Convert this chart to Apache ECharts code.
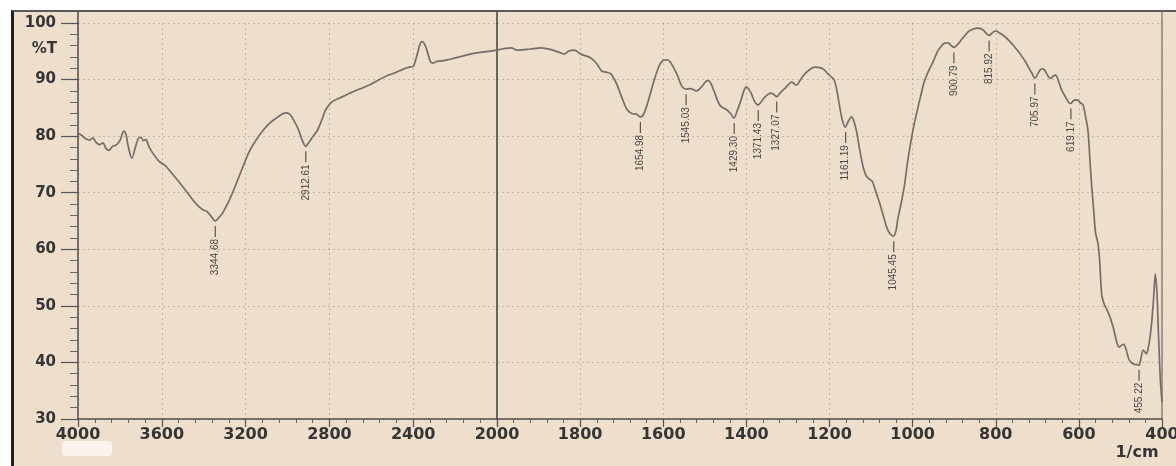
<!DOCTYPE html>
<html><head><meta charset="utf-8">
<script src="https://cdn.jsdelivr.net/npm/echarts@6/dist/echarts.min.js"></script>
<style>
html,body{margin:0;padding:0;background:#fff;}
#wrap{position:relative;width:1176px;height:466px;overflow:hidden;background:#fff;}
#paper{position:absolute;left:11px;top:10px;right:0;bottom:0;background:#eedecc;border-left:3px solid #1e1e1e;border-top:2px solid #5a5a5a;}
#chart{position:absolute;left:0;top:0;width:1176px;height:466px;}
</style></head><body>
<div id="wrap"><div id="paper"></div><div id="chart"></div></div>
<script>
// ---- data (wavenumber in 1/cm, transmittance in %T) ----
const wnHigh = [4000,3985,3965,3945,3929,3914,3897,3881,3866,3852,3835,3819,3800,3781,3770,3762,3743,3724,3712,3700,3688,3676,3662,3643,3614,3581,3560,3533,3486,3438,3405,3385,3360,3345,3330,3310,3280,3248,3186,3150,3119,3085,3057,3030,3010,2990,2970,2948,2930,2913,2900,2885,2858,2840,2820,2800,2786,2760,2724,2690,2643,2600,2567,2530,2486,2450,2420,2400,2392,2380,2368,2360,2350,2340,2330,2318,2305,2290,2260,2224,2180,2129,2080,2040,2000];
const tHigh = [80.5,80.2,79.6,79.3,79.7,78.9,78.5,78.8,77.8,77.5,78.2,78.4,79.2,80.9,80.2,78.5,76.1,78.3,79.6,79.8,79.2,79.4,78.2,77.0,75.6,74.7,73.8,72.6,70.4,68.1,67.0,66.7,65.6,65.0,65.5,66.4,68.5,71.3,77.0,79.3,80.9,82.3,83.1,83.8,84.1,83.9,82.8,81.2,79.3,78.2,78.8,79.6,81.0,82.5,84.5,85.6,86.1,86.6,87.2,87.8,88.5,89.2,89.9,90.6,91.2,91.8,92.2,92.3,93.0,94.6,96.2,96.7,96.5,95.8,94.6,93.2,92.9,93.2,93.3,93.6,94.0,94.5,94.8,95.0,95.2];

const wnLow = [2000,1980,1966,1952,1935,1920,1894,1870,1850,1839,1828,1815,1798,1774,1760,1748,1736,1726,1712,1700,1688,1676,1665,1655,1647,1635,1623,1610,1600,1590,1583,1568,1555,1545,1535,1520,1508,1497,1491,1479,1470,1462,1448,1438,1430,1422,1414,1406,1400,1394,1388,1380,1372,1365,1359,1350,1340,1333,1327,1318,1308,1300,1291,1284,1279,1272,1265,1255,1243,1234,1224,1214,1205,1196,1188,1182,1176,1169,1162,1155,1147,1141,1135,1129,1123,1117,1111,1104,1097,1090,1080,1070,1063,1055,1046,1040,1036,1028,1020,1012,1003,996,988,980,972,963,955,947,940,932,924,915,907,900,892,883,874,864,855,845,836,828,822,816,808,800,790,780,768,756,746,737,728,720,712,706,699,692,686,680,674,668,662,656,648,641,632,624,619,613,604,598,590,584,578,574,570,565,560,554,550,545,539,533,527,521,515,509,503,496,492,486,480,474,468,460,455,451,445,438,432,426,421,416,412,408,404,400];
const tLow = [95.2,95.5,95.6,95.2,95.3,95.4,95.6,95.3,94.8,94.5,95.0,95.2,94.5,93.8,92.8,91.5,91.3,91.0,89.2,86.9,84.8,84.0,83.9,83.4,83.9,86.5,89.6,92.4,93.4,93.5,93.1,91.1,88.8,88.3,88.4,88.0,88.7,89.7,89.8,88.2,86.4,85.3,84.7,84.0,83.2,84.5,86.1,88.0,88.7,88.3,87.5,86.1,85.5,86.0,86.6,87.3,87.6,87.3,87.0,87.7,88.4,89.0,89.6,89.2,89.0,89.7,90.5,91.3,92.0,92.2,92.1,91.8,91.1,90.5,89.8,88.0,85.4,82.8,81.6,82.6,83.4,82.6,80.9,78.3,75.9,74.0,72.9,72.4,72.0,70.5,68.3,65.8,64.0,62.8,62.3,63.3,65.2,68.0,71.1,75.5,79.5,82.2,84.8,87.3,89.6,91.3,92.5,93.8,95.0,95.8,96.4,96.5,96.0,95.7,96.2,97.0,97.8,98.6,98.9,99.1,99.0,98.6,98.1,97.8,98.3,98.6,98.2,97.7,96.9,95.9,95.0,94.1,93.1,92.0,91.0,90.2,91.0,91.8,91.9,91.4,90.6,90.2,90.6,90.8,89.5,88.1,86.9,85.9,85.8,86.3,86.4,86.0,85.5,83.5,80.9,76.5,72.0,67.5,63.0,61.0,58.0,52.0,50.3,49.4,48.4,47.1,45.5,43.6,42.7,43.1,43.2,42.2,40.6,40.0,39.7,39.6,39.5,40.6,42.2,41.5,43.0,46.2,50.5,55.6,52.0,44.0,37.0,33.0];

const peakWnHigh = [3344.68, 2912.61];
const peakTHigh = [65.0, 78.2];
const peakWnLow = [1654.98, 1545.03, 1429.30, 1371.43, 1327.07, 1161.19, 1045.45, 900.79, 815.92, 705.97, 619.17, 455.22];
const peakTLow = [83.4, 88.3, 83.2, 85.5, 87.0, 81.6, 62.3, 95.7, 97.8, 90.2, 85.8, 39.6];

const xTicksHigh = [4000, 3600, 3200, 2800, 2400];
const yTicks = [30, 40, 50, 60, 70, 80, 90, 100];

// ---- chart ----
const chart = echarts.init(document.getElementById('chart'));
const gridDot = {show: true, lineStyle: {color: 'rgba(115,105,95,0.33)', width: 1, type: [2, 3]}};
const axisFont = {fontFamily: 'DejaVu Sans', fontWeight: 'bold', color: '#353535'};
const curveStyle = {color: '#746e68', width: 1.7};

function xAxisBase(grid, min, max, interval, fmt) {
  return {
    gridIndex: grid, type: 'value', min: min, max: max, interval: interval, inverse: true,
    axisLine: {show: true, onZero: false, lineStyle: {color: '#4d4d4d', width: 1.5}},
    axisTick: {show: true, length: 8, lineStyle: {color: '#555', width: 1.2}},
    minorTick: {show: true, splitNumber: 5, length: 4, lineStyle: {color: '#666', width: 1}},
    axisLabel: Object.assign({fontSize: 16, margin: 8, formatter: fmt}, axisFont),
    splitLine: gridDot
  };
}
function hiddenX(grid) {
  return {gridIndex: grid, type: 'value', min: 0, max: 1, show: false};
}
function edgeY(grid, pos, color, width) {
  return {
    gridIndex: grid, type: 'value', min: 0, max: 1, position: pos,
    axisLine: {show: true, onZero: false, lineStyle: {color: color, width: width}},
    axisTick: {show: false}, axisLabel: {show: false}, splitLine: {show: false}
  };
}
function peakSeries(xi, yi, wns, ts) {
  return {
    type: 'scatter', xAxisIndex: xi, yAxisIndex: yi, silent: true,
    symbol: 'rect', symbolSize: [1.2, 11], symbolOffset: [0, 10.5],
    itemStyle: {color: '#333'},
    data: wns.map((w, i) => [w, ts[i]]),
    label: {
      show: true, position: 'bottom', distance: 2, rotate: 90,
      align: 'right', verticalAlign: 'middle',
      fontFamily: 'Liberation Sans', fontSize: 10, color: '#202020',
      formatter: p => p.value[0].toFixed(2)
    }
  };
}

chart.setOption({
  animation: false,
  grid: [
    {left: 78, top: 23, width: 419, height: 396, outerBoundsMode: 'none', containLabel: false},
    {left: 497, top: 23, width: 665, height: 396, outerBoundsMode: 'none', containLabel: false},
    {left: 78, top: 12, width: 419, height: 11, outerBoundsMode: 'none', containLabel: false},
    {left: 497, top: 12, width: 665, height: 11, outerBoundsMode: 'none', containLabel: false}
  ],
  xAxis: [
    xAxisBase(0, 2000, 4000, 400, v => (xTicksHigh.indexOf(v) >= 0 ? String(v) : '')),
    xAxisBase(1, 400, 2000, 200, v => String(v)),
    hiddenX(2),
    hiddenX(3)
  ],
  yAxis: [
    {
      gridIndex: 0, type: 'value', min: 30, max: 100, interval: 10,
      axisLine: {show: true, onZero: false, lineStyle: {color: '#4d4d4d', width: 1.5}},
      axisTick: {show: true, length: 17, lineStyle: {color: '#555', width: 1.2}},
      minorTick: {show: true, splitNumber: 5, length: 8, lineStyle: {color: '#666', width: 1}},
      axisLabel: Object.assign({fontSize: 15, margin: 22, formatter: v => (yTicks.indexOf(v) >= 0 ? String(v) : '')}, axisFont),
      splitLine: gridDot
    },
    {
      gridIndex: 1, type: 'value', min: 30, max: 100, interval: 10,
      axisLine: {show: true, onZero: false, lineStyle: {color: '#4a4a4a', width: 1.6}},
      axisTick: {show: false}, axisLabel: {show: false},
      splitLine: gridDot
    },
    {
      gridIndex: 1, type: 'value', min: 30, max: 100, interval: 10, position: 'right',
      axisLine: {show: true, onZero: false, lineStyle: {color: '#8a847e', width: 1.5}},
      axisTick: {show: false}, axisLabel: {show: false}, splitLine: {show: false}
    },
    edgeY(2, 'left', '#4d4d4d', 1.5),
    edgeY(2, 'right', '#4a4a4a', 1.6),
    edgeY(3, 'right', '#8a847e', 1.5)
  ],
  graphic: [
    {type: 'rect', shape: {x: 62, y: 441, width: 50, height: 15, r: 4}, style: {fill: '#fcf3ee'}, z: -1},
    {type: 'text', x: 57, y: 49, style: {text: '%T', fontFamily: 'DejaVu Sans', fontWeight: 'bold', fontSize: 15, fill: '#353535', align: 'right', verticalAlign: 'middle'}},
    {type: 'text', x: 1137, y: 453, style: {text: '1/cm', fontFamily: 'DejaVu Sans', fontWeight: 'bold', fontSize: 16, fill: '#353535', align: 'center', verticalAlign: 'middle'}}
  ],
  series: [
    {type: 'line', xAxisIndex: 0, yAxisIndex: 0, symbol: 'none', smooth: 0.3, lineStyle: curveStyle,
     data: wnHigh.map((w, i) => [w, tHigh[i]])},
    {type: 'line', xAxisIndex: 1, yAxisIndex: 1, symbol: 'none', smooth: 0.3, lineStyle: curveStyle,
     data: wnLow.map((w, i) => [w, tLow[i]])},
    peakSeries(0, 0, peakWnHigh, peakTHigh),
    peakSeries(1, 1, peakWnLow, peakTLow)
  ]
});
</script>
</body></html>
